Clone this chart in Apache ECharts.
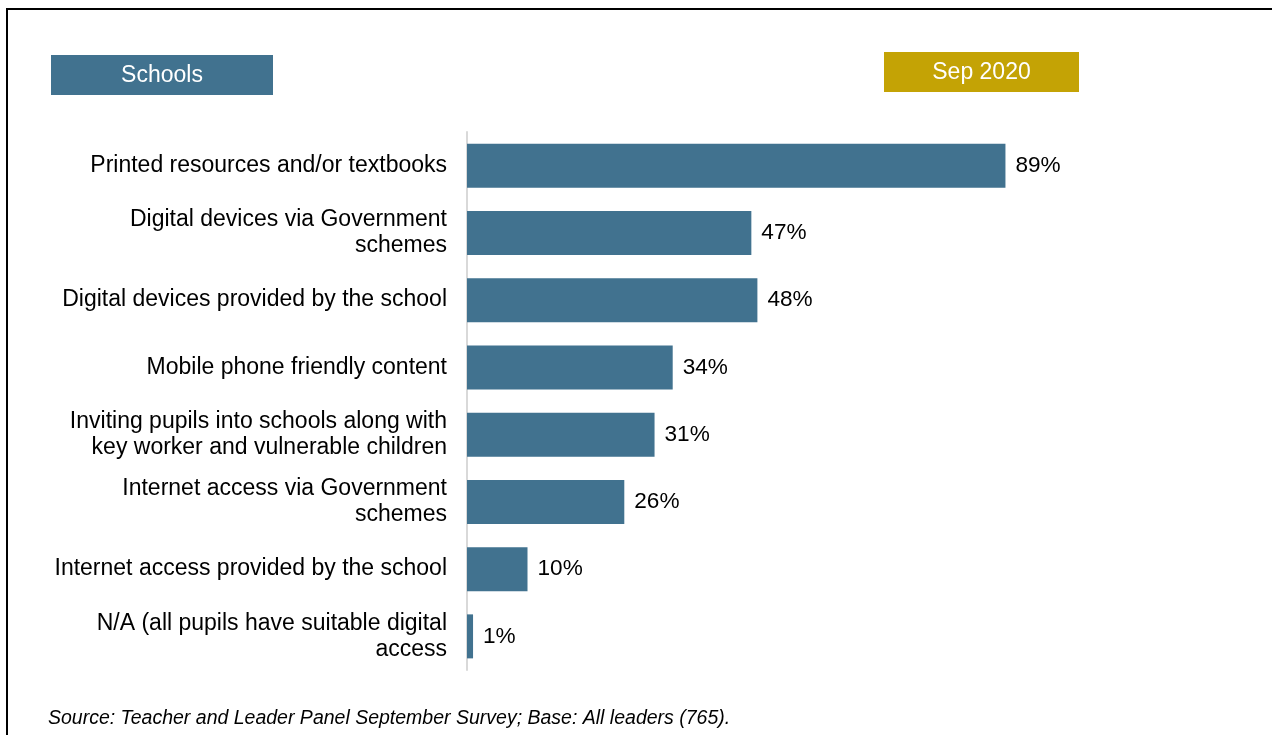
<!DOCTYPE html>
<html>
<head>
<meta charset="utf-8">
<script src="https://cdn.jsdelivr.net/npm/echarts@6/dist/echarts.min.js"></script>
<style>
html,body{margin:0;padding:0;background:#fff;}
#chart{width:1272px;height:735px;}
</style>
</head>
<body>
<div id="chart"></div>
<script>
const categories = [
  "Printed resources and/or textbooks",
  "Digital devices via Government\nschemes",
  "Digital devices provided by the school",
  "Mobile phone friendly content",
  "Inviting pupils into schools along with\nkey worker and vulnerable children",
  "Internet access via Government\nschemes",
  "Internet access provided by the school",
  "N/A (all pupils have suitable digital\naccess"
];
const values = [89, 47, 48, 34, 31, 26, 10, 1];
const panelTitle = "Schools";
const periodTitle = "Sep 2020";
const sourceNote = "Source: Teacher and Leader Panel September Survey; Base: All leaders (765).";

const FONT = "Liberation Sans, Arial, sans-serif";
const chart = echarts.init(document.getElementById('chart'));
chart.setOption({
  animation: false,
  grid: { left: 467, right: 200, top: 132, bottom: 65, containLabel: false },
  xAxis: {
    type: 'value', min: 0, max: 100,
    show: false
  },
  yAxis: {
    type: 'category',
    data: categories,
    inverse: true,
    axisLine: { show: true, lineStyle: { color: '#d9d9d9', width: 2 } },
    axisTick: { show: false },
    axisLabel: {
      color: '#000', fontFamily: FONT, fontSize: 23, lineHeight: 26,
      margin: 20, align: 'right', padding: [3, 0, 0, 0]
    }
  },
  series: [{
    type: 'bar',
    data: values,
    barWidth: 44,
    itemStyle: { color: '#41728F' },
    label: {
      show: true, position: 'right', distance: 10, padding: [3, 0, 0, 0],
      formatter: '{c}%', color: '#000', fontFamily: FONT, fontSize: 22.6
    }
  }],
  graphic: [
    { type: 'rect', shape: { x: 7, y: 9, width: 1400, height: 900 },
      style: { fill: null, stroke: '#000', lineWidth: 2 }, silent: true },
    { type: 'rect', shape: { x: 51, y: 55, width: 222, height: 40 },
      style: { fill: '#41728F' } },
    { type: 'text', x: 162, y: 76, style: { text: panelTitle, fill: '#fff', font: '23px ' + FONT, align: 'center', verticalAlign: 'middle' } },
    { type: 'rect', shape: { x: 884, y: 52, width: 195, height: 40 },
      style: { fill: '#C4A305' } },
    { type: 'text', x: 981.5, y: 73, style: { text: periodTitle, fill: '#fff', font: '23px ' + FONT, align: 'center', verticalAlign: 'middle' } },
    { type: 'text', x: 48, y: 719, style: { text: sourceNote, fill: '#000', font: 'italic 19.5px ' + FONT, align: 'left', verticalAlign: 'middle' } }
  ]
});
</script>
</body>
</html>
